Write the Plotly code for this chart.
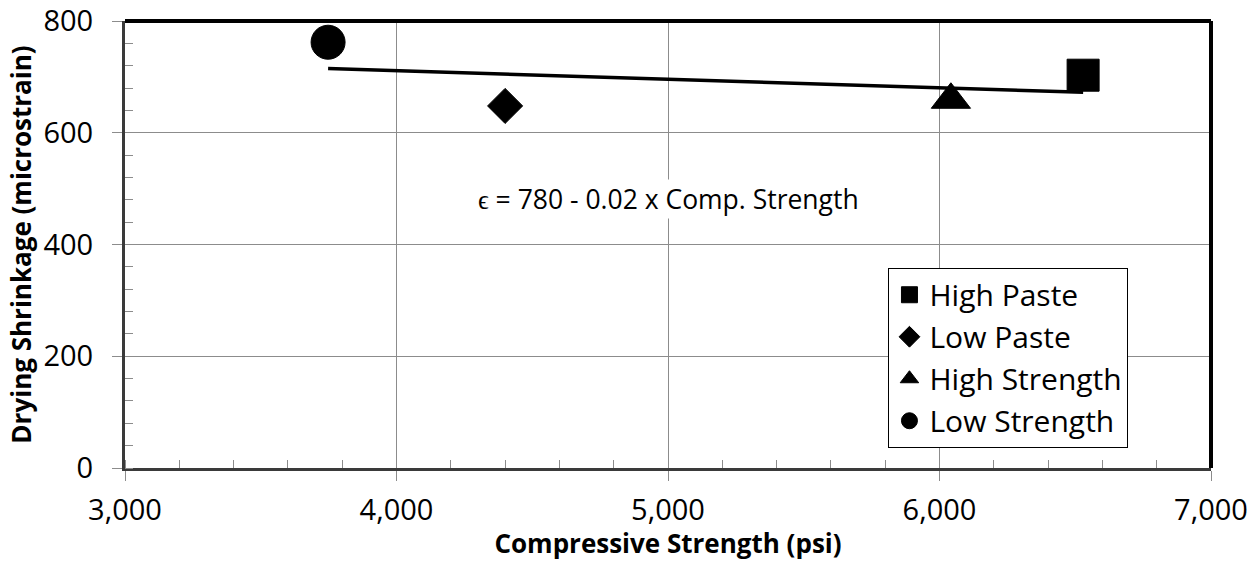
import numpy as np
import plotly.graph_objects as go

# ---- data ----
series_names = ["High Paste", "Low Paste", "High Strength", "Low Strength"]
strength_psi = [6529, 4400, 6042, 3748]          # compressive strength
shrinkage_ue = [703, 648, 659, 762]              # drying shrinkage (microstrain)
symbols = ["square", "diamond", "triangle-up", "circle"]
sizes = [32, 27, 34, 34]

x_ticks = [3000, 4000, 5000, 6000, 7000]
y_ticks = [0, 200, 400, 600, 800]
equation_text = "ϵ = 780 - 0.02 x Comp. Strength"

FONT = "Open Sans"

fig = go.Figure()

# linear trend line through all points
slope, intercept = np.polyfit(strength_psi, shrinkage_ue, 1)
x_fit = [min(strength_psi), max(strength_psi)]
y_fit = [intercept + slope * v for v in x_fit]
fig.add_trace(go.Scatter(x=x_fit, y=y_fit, mode="lines",
                         line=dict(color="black", width=3.5),
                         showlegend=False, hoverinfo="skip"))

for name, xv, yv, sym, sz in zip(series_names, strength_psi, shrinkage_ue, symbols, sizes):
    fig.add_trace(go.Scatter(x=[xv], y=[yv], mode="markers", name=name,
                             marker=dict(symbol=sym, size=sz, color="black",
                                         line=dict(color="black", width=1))))

grid = "#8c8c8c"
fig.update_xaxes(range=[3000, 7000], tickvals=x_ticks, tickformat=",d",
                 showgrid=True, gridcolor=grid, gridwidth=1,
                 ticks="outside", ticklen=10, tickcolor=grid, tickwidth=1,
                 minor=dict(dtick=200, ticks="inside", ticklen=8, tickcolor=grid, showgrid=False),
                 showline=True, linecolor="#3a3a3a", linewidth=3,
                 zeroline=False, ticklabelstandoff=4, automargin=False,
                 tickfont=dict(family=FONT, size=29, color="black"),
                 title=dict(text="<b>Compressive Strength (psi)</b>", standoff=0,
                            font=dict(family=FONT, size=26, color="black")))
fig.update_yaxes(range=[0, 800], tickvals=y_ticks,
                 showgrid=True, gridcolor=grid, gridwidth=1,
                 ticks="outside", ticklen=10, tickcolor=grid, tickwidth=1,
                 minor=dict(dtick=40, ticks="inside", ticklen=8, tickcolor=grid, showgrid=False),
                 showline=True, linecolor="#3a3a3a", linewidth=3,
                 zeroline=False, ticklabelstandoff=13, automargin=False,
                 tickfont=dict(family=FONT, size=29, color="black"),
                 title=dict(text="<b>Drying Shrinkage (microstrain)</b>", standoff=5,
                            font=dict(family=FONT, size=26, color="black")))

# thick black top/right border of the plot area
fig.add_shape(type="line", xref="paper", yref="paper", x0=0, x1=1, y0=1, y1=1,
              line=dict(color="black", width=4), layer="above")
fig.add_shape(type="line", xref="paper", yref="paper", x0=1, x1=1, y0=0, y1=1,
              line=dict(color="black", width=4), layer="above")

fig.add_annotation(x=5000, y=482, text=equation_text, showarrow=False,
                   bgcolor="white", font=dict(family=FONT, size=26.5, color="black"))

fig.update_layout(
    width=1258, height=561,
    margin=dict(l=125, r=47, t=21, b=93),
    paper_bgcolor="white", plot_bgcolor="white",
    font=dict(family=FONT, color="black"),
    legend=dict(x=0.703, y=0.448, xanchor="left", yanchor="top",
                bgcolor="white", bordercolor="black", borderwidth=1,
                font=dict(family=FONT, size=30, color="black"),
                itemwidth=30, tracegroupgap=0),
)

fig.write_html("out.html", config={"displayModeBar": False},
               post_script="document.body.style.margin='0px';")
